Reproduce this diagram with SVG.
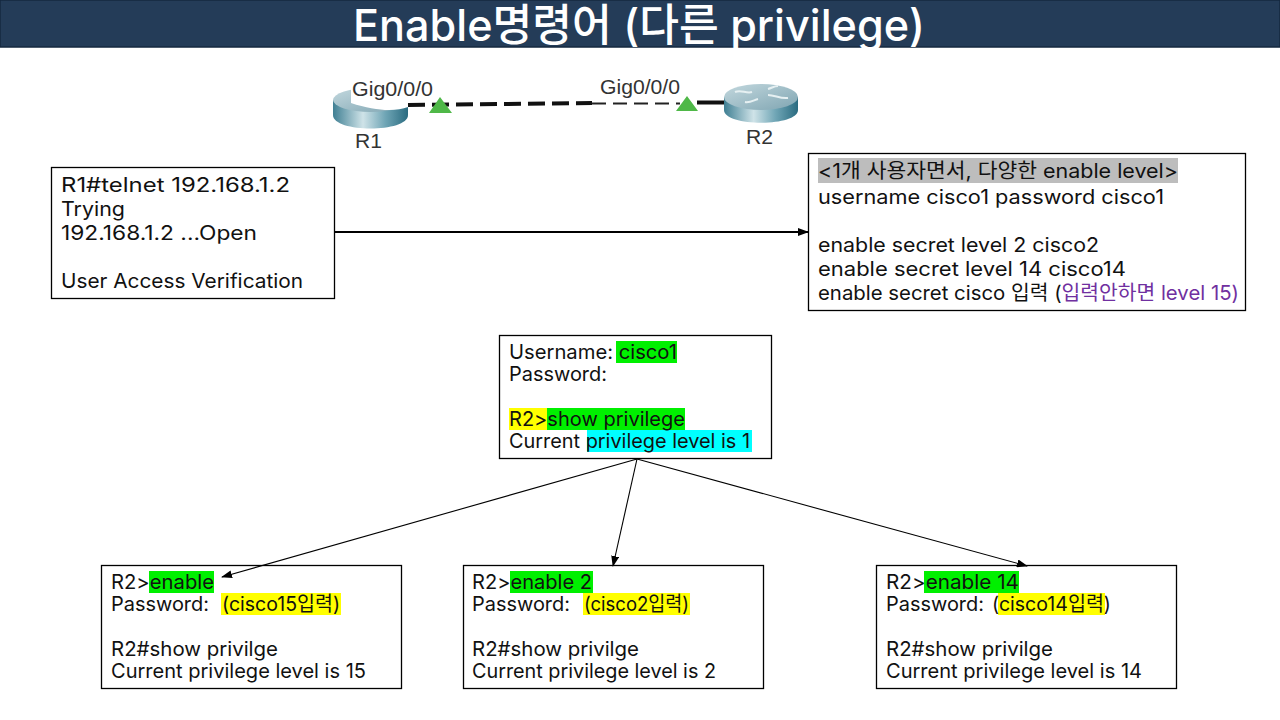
<svg xmlns="http://www.w3.org/2000/svg" width="1280" height="720" viewBox="0 0 1280 720">
<style>
text{font-family:"Inter","Noto Sans CJK KR",sans-serif;fill:#111;font-size:20px}
.box{fill:#fff;stroke:#000;stroke-width:1.3}
.con{stroke:#000;stroke-width:1.1;fill:none;marker-end:url(#a)}
.g{fill:#00f000}.y{fill:#ffff00}.c{fill:#00ffff}.s{fill:#bdbdbd}
.l{font-family:"Liberation Sans",sans-serif;font-size:20px;fill:#333}
.sq{stroke:#e6f0f2;stroke-width:2;fill:none}
</style>
<defs>
<marker id="a" markerWidth="11" markerHeight="8" refX="10" refY="4" orient="auto" markerUnits="userSpaceOnUse"><path d="M0 0L11 4L0 8z" fill="#000"/></marker>
<linearGradient id="rg" x1="0" x2="1" y1="0" y2="0"><stop offset="0" stop-color="#3f7f93"/><stop offset=".4" stop-color="#cfe3e8"/><stop offset=".7" stop-color="#6fa5b5"/><stop offset="1" stop-color="#2a6b80"/></linearGradient>
<linearGradient id="rt" x1="0" x2="1" y1="0" y2="1"><stop offset="0" stop-color="#c3d8de"/><stop offset="1" stop-color="#7fa5b2"/></linearGradient>
</defs>
<rect width="1280" height="720" fill="#fff"/>
<g id="title"><rect x="0" y="0" width="1280" height="47" fill="#243c58" stroke="#14283f" stroke-width="1.500"/>
<text x="639" y="41" text-anchor="middle" style="font-size:44px;fill:#fff;font-weight:500" textLength="572" lengthAdjust="spacingAndGlyphs">Enable명령어 (다른 privilege)</text></g>
<g id="topology">
<g id="R1"><path d="M333 100V115C333 133 408 133 408 115V100Z" fill="url(#rg)"/><ellipse cx="370.500" cy="100" rx="37.500" ry="12" fill="url(#rt)"/><rect x="351" y="80" width="84" height="23" fill="#fff"/><path d="M351 103H408L408 107C395 112 375 111 351 103Z" fill="#fff"/><text class="l" x="355" y="148" textLength="27" lengthAdjust="spacingAndGlyphs">R1</text></g>
<g id="R2"><path d="M724 97V110C724 127 798 127 798 110V97Z" fill="url(#rg)"/><ellipse cx="761" cy="97" rx="37" ry="13" fill="url(#rt)"/><path class="sq" d="M735 92C741 89 746 94 752 92M768 89C772 88 774 86 778 86M768 95C775 95 780 99 788 98M745 102C750 103 754 100 758 99"/><text class="l" x="746" y="144" textLength="27" lengthAdjust="spacingAndGlyphs">R2</text></g>
<path d="M408 105L592 103" stroke="#111" stroke-width="4" stroke-dasharray="17 7" fill="none"/>
<path d="M592 103.500H680" stroke="#222" stroke-width="2" stroke-dasharray="14 7" fill="none"/>
<path d="M697 102.500H724" stroke="#111" stroke-width="4" fill="none"/>
<path d="M429 113L440 97L452 113Z M676 111L687 96L698 111Z" fill="#4fb848"/>
<text class="l" x="352" y="96" textLength="81" lengthAdjust="spacingAndGlyphs">Gig0/0/0</text><text class="l" x="600" y="94" textLength="80" lengthAdjust="spacingAndGlyphs">Gig0/0/0</text>
</g>
<g id="telnet"><rect class="box" x="51.500" y="167.500" width="283" height="131"/>
<text x="61" y="192" textLength="229" lengthAdjust="spacingAndGlyphs">R1#telnet 192.168.1.2</text><text x="61" y="216" textLength="64" lengthAdjust="spacingAndGlyphs">Trying</text><text x="61" y="240" textLength="196" lengthAdjust="spacingAndGlyphs">192.168.1.2 ...Open</text><text x="61" y="288" textLength="242" lengthAdjust="spacingAndGlyphs">User Access Verification</text></g>
<g id="config"><rect class="box" x="808.500" y="153.500" width="437" height="157"/>
<rect class="s" x="818" y="158" width="360" height="25"/>
<text x="818" y="178" textLength="360" lengthAdjust="spacingAndGlyphs">&lt;1개 사용자면서, 다양한 enable level&gt;</text>
<text x="818" y="204" textLength="346" lengthAdjust="spacingAndGlyphs">username cisco1 password cisco1</text>
<text x="818" y="252" textLength="281" lengthAdjust="spacingAndGlyphs">enable secret level 2 cisco2</text>
<text x="818" y="276" textLength="308" lengthAdjust="spacingAndGlyphs">enable secret level 14 cisco14</text>
<text x="818" y="300" textLength="421" lengthAdjust="spacingAndGlyphs">enable secret cisco 입력 (<tspan fill="#7030a0">입력안하면 level 15)</tspan></text></g>
<g id="login"><rect class="box" x="499.500" y="335.500" width="272" height="123"/>
<rect class="g" x="616" y="341" width="61" height="22"/><rect class="y" x="509" y="408" width="38" height="22"/><rect class="g" x="547" y="408" width="138" height="22"/><rect class="c" x="587" y="430" width="165" height="22"/>
<text x="509" y="359" textLength="168" lengthAdjust="spacingAndGlyphs">Username: cisco1</text><text x="509" y="381" textLength="98" lengthAdjust="spacingAndGlyphs">Password:</text><text x="509" y="426" textLength="176" lengthAdjust="spacingAndGlyphs">R2&gt;show privilege</text><text x="509" y="448" textLength="241" lengthAdjust="spacingAndGlyphs">Current privilege level is 1</text></g>
<g id="level15"><rect class="box" x="101.500" y="565.500" width="300" height="123"/>
<rect class="g" x="149" y="571" width="65" height="22"/><rect class="y" x="221" y="593" width="120" height="22"/>
<text x="111" y="589" textLength="103" lengthAdjust="spacingAndGlyphs">R2&gt;enable</text><text x="111" y="611" textLength="98" lengthAdjust="spacingAndGlyphs">Password:</text><text x="222" y="611" textLength="118" lengthAdjust="spacingAndGlyphs">(cisco15입력)</text><text x="111" y="656" textLength="167" lengthAdjust="spacingAndGlyphs">R2#show privilge</text><text x="111" y="678" textLength="255" lengthAdjust="spacingAndGlyphs">Current privilege level is 15</text></g>
<g id="level2"><rect class="box" x="463.500" y="565.500" width="300" height="123"/>
<rect class="g" x="510" y="571" width="83" height="22"/><rect class="y" x="583" y="593" width="107" height="22"/>
<text x="472" y="589" textLength="120" lengthAdjust="spacingAndGlyphs">R2&gt;enable 2</text><text x="472" y="611" textLength="98" lengthAdjust="spacingAndGlyphs">Password:</text><text x="584" y="611" textLength="105" lengthAdjust="spacingAndGlyphs">(cisco2입력)</text><text x="472" y="656" textLength="167" lengthAdjust="spacingAndGlyphs">R2#show privilge</text><text x="472" y="678" textLength="244" lengthAdjust="spacingAndGlyphs">Current privilege level is 2</text></g>
<g id="level14"><rect class="box" x="876.500" y="565.500" width="300" height="123"/>
<rect class="g" x="924" y="571" width="95" height="22"/><rect class="y" x="998" y="593" width="107" height="22"/>
<text x="886" y="589" textLength="133" lengthAdjust="spacingAndGlyphs">R2&gt;enable 14</text><text x="886" y="611" textLength="98" lengthAdjust="spacingAndGlyphs">Password:</text><text x="992" y="611" textLength="119" lengthAdjust="spacingAndGlyphs">(cisco14입력)</text><text x="886" y="656" textLength="167" lengthAdjust="spacingAndGlyphs">R2#show privilge</text><text x="886" y="678" textLength="256" lengthAdjust="spacingAndGlyphs">Current privilege level is 14</text></g>
<g id="connectors">
<path class="con" style="stroke-width:1.8" d="M335 232H808"/><path class="con" d="M637 459L222 577"/><path class="con" d="M637 459L613 566"/><path class="con" d="M637 459L1027 566"/>
</g>
</svg>
